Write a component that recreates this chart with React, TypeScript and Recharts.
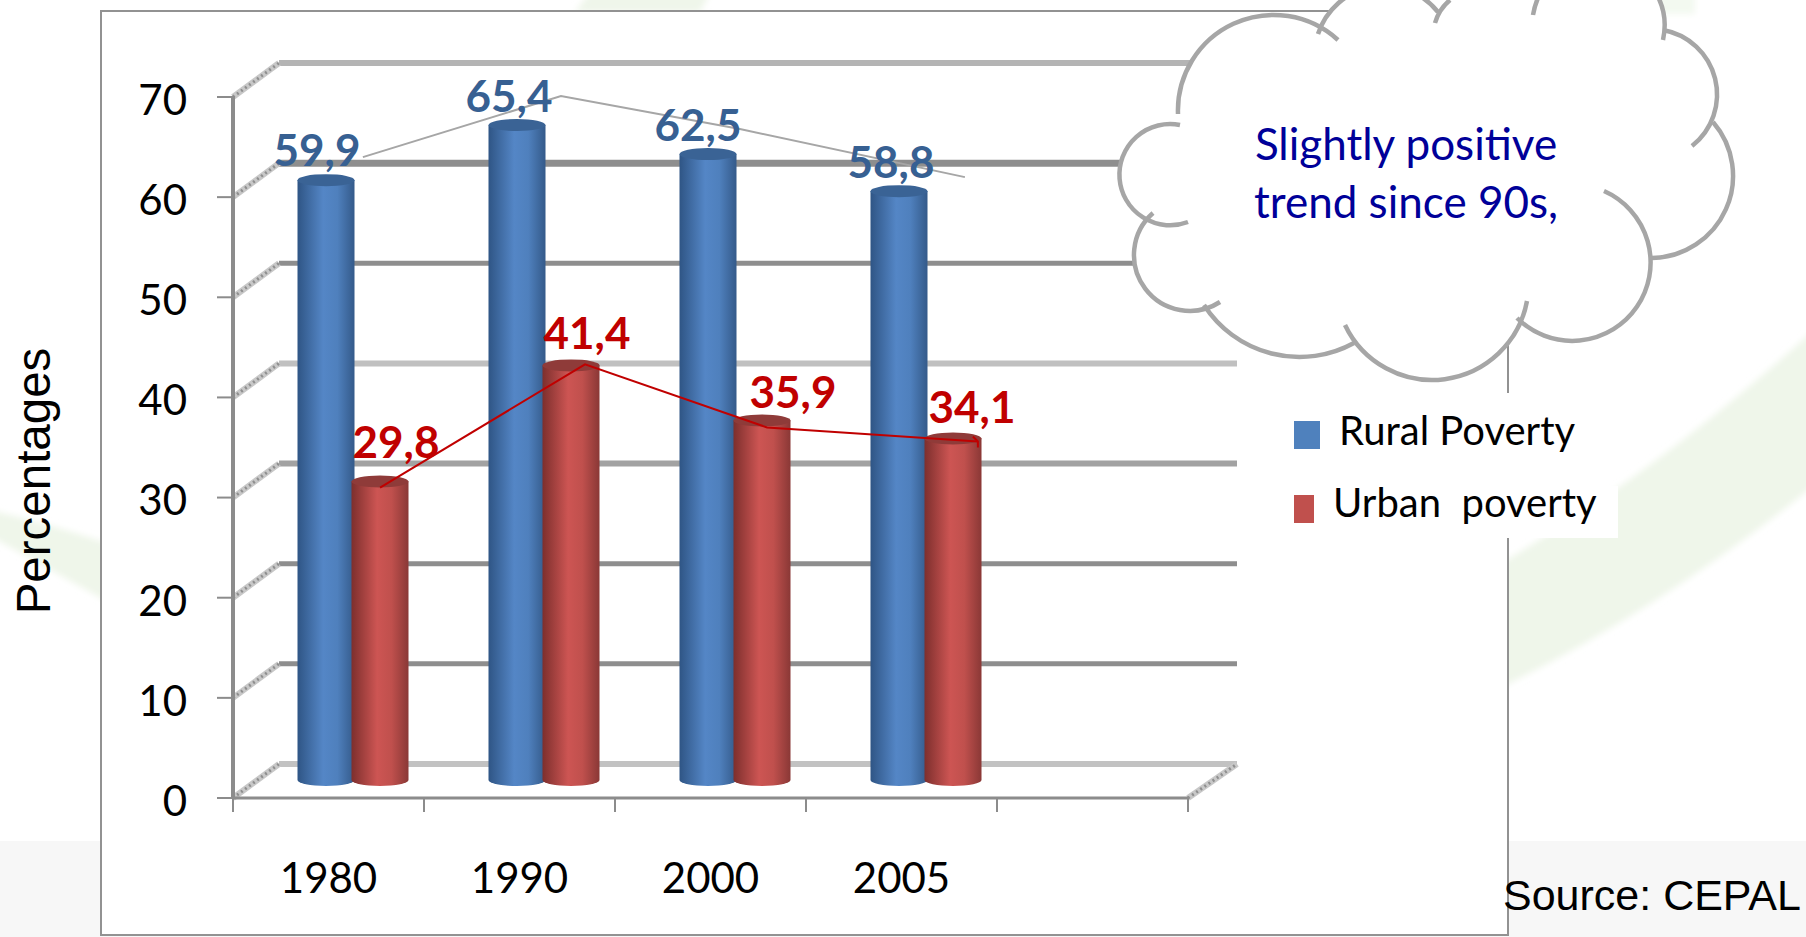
import React from 'react';
import { ComposedChart, Bar, Line, XAxis, YAxis, CartesianGrid, LabelList, Legend, Label } from 'recharts';

const categories = ['1980', '1990', '2000', '2005', ''];
const ruralValues: (number | null)[] = [59.9, 65.4, 62.5, 58.8, null];
const urbanValues: (number | null)[] = [29.8, 41.4, 35.9, 34.1, null];
const yTicks = [0, 10, 20, 30, 40, 50, 60, 70];
const slotTicks = [0, 1, 2, 3, 4, 5];
// hand-drawn trend overlays, position in category slots and level in percent
const ruralTrendPos = [0.68, 1.717, 2.654, 3.832];
const ruralTrendLevel = [64.0, 70.1, 66.8, 62.0];
const urbanTrendPos = [0.77, 1.843, 2.796, 3.9];
const urbanTrendLevel = [31.0, 43.3, 37.0, 35.6];

const rows = categories.map((year, i) => ({ year, rural: ruralValues[i], urban: urbanValues[i] }));
const ruralTrend = ruralTrendPos.map((pos, i) => ({ pos, level: ruralTrendLevel[i] }));
const urbanTrend = urbanTrendPos.map((pos, i) => ({ pos, level: urbanTrendLevel[i] }));

const W = 1806;
const H = 937;
const CALIBRI = 'Lato, Carlito, sans-serif';
const ARIAL = '"Liberation Sans", Arial, sans-serif';
const BAR_DX = 24.5;
const BAR_DY = -18;
const DEPTH_X = 46;
const DEPTH_Y = -34;
const BACK_END = 1237;
const AXIS = '#8c8c8c';
const gridStyle: Record<number, { c: string; w: number }> = {
  0: { c: '#c2c2c2', w: 6 },
  10: { c: '#8e8e8e', w: 5 },
  20: { c: '#8e8e8e', w: 5 },
  30: { c: '#a2a2a2', w: 6 },
  40: { c: '#c0c0c0', w: 6 },
  50: { c: '#8e8e8e', w: 5 },
  60: { c: '#8e8e8e', w: 7 },
  70: { c: '#b4b4b4', w: 6 },
};

function cylinder(id: string, stops: string[], top: string) {
  return (props: any) => {
    const { x, y, width, height } = props;
    if (height == null || !isFinite(height) || height <= 0) return null;
    const left = x + BAR_DX;
    const right = left + width;
    const t = y + BAR_DY;
    const b = t + height;
    const rx = width / 2;
    const ry = 6;
    return (
      <g>
        <defs>
          <linearGradient id={id} x1="0" x2="1" y1="0" y2="0">
            <stop offset="0" stopColor={stops[0]} />
            <stop offset="0.45" stopColor={stops[1]} />
            <stop offset="0.7" stopColor={stops[2]} />
            <stop offset="1" stopColor={stops[3]} />
          </linearGradient>
        </defs>
        <path
          d={`M${left},${t} L${left},${b} A${rx},${ry} 0 0 0 ${right},${b} L${right},${t} Z`}
          fill={`url(#${id})`}
        />
        <ellipse cx={left + rx} cy={t} rx={rx} ry={ry} fill={top} />
      </g>
    );
  };
}
const RuralBar = cylinder('cylRural', ['#2f5585', '#5486c6', '#4f80bd', '#345a8a'], '#3a6395');
const UrbanBar = cylinder('cylUrban', ['#7d2f2d', '#cd5553', '#c0504d', '#8a3836'], '#8f3b39');

const ruralLabelDx = [-9, -8, -10, -8];
const ruralLabelDy = [-31, -30, -30, -30];
const urbanLabelDx = [16, 16, 31, 19];
const urbanLabelDy = [-41, -33, -29, -33];

function valueLabel(color: string, dxs: number[], dys: number[]) {
  return (props: any) => {
    const { x, y, width, value, index } = props;
    if (value == null) return null;
    return (
      <text
        x={x + width / 2 + BAR_DX + dxs[index]}
        y={y + BAR_DY + dys[index]}
        textAnchor="middle"
        dominantBaseline="central"
        fontFamily={CALIBRI}
        fontWeight={700}
        fontSize={44}
        fill={color}
      >
        {String(value).replace('.', ',')}
      </text>
    );
  };
}

function backGridLine(props: any) {
  const { x1, y1, index } = props;
  const s = gridStyle[yTicks[index]] ?? gridStyle[0];
  const bx = x1 + DEPTH_X;
  const by = y1 + DEPTH_Y;
  return (
    <g key={`g${index}`}>
      <line x1={bx} x2={BACK_END} y1={by} y2={by} stroke={s.c} strokeWidth={s.w} />
      <line x1={x1} y1={y1} x2={bx} y2={by} stroke="#c8c8c8" strokeWidth={6} />
      <line x1={x1} y1={y1} x2={bx} y2={by} stroke="#8f8f8f" strokeWidth={3} strokeDasharray="2 3" />
      {index === 0 ? (
        <g>
          <line x1={1188} y1={y1} x2={BACK_END} y2={by} stroke="#c8c8c8" strokeWidth={6} />
          <line x1={1188} y1={y1} x2={BACK_END} y2={by} stroke="#8f8f8f" strokeWidth={3} strokeDasharray="2 3" />
        </g>
      ) : null}
    </g>
  );
}

function UrbanArrow(props: any) {
  const { cx, cy, index } = props;
  if (index !== urbanTrendPos.length - 1) return <g key={index} />;
  return (
    <path
      key={index}
      d={`M${cx - 5},${cy - 5} L${cx},${cy} L${cx},${cy + 6}`}
      fill="none"
      stroke="#c00000"
      strokeWidth={2}
    />
  );
}

function LegendBox() {
  const txt: React.CSSProperties = { position: 'absolute', fontFamily: CALIBRI, fontSize: 40, color: '#000', whiteSpace: 'pre', lineHeight: '44px' };
  return (
    <div style={{ position: 'relative', width: 0, height: 0 }}>
      <div style={{ position: 'absolute', left: 1270, top: 393, width: 320, height: 93, background: '#fff' }} />
      <div style={{ position: 'absolute', left: 1270, top: 486, width: 348, height: 52, background: '#fff' }} />
      <div style={{ position: 'absolute', left: 1294, top: 421, width: 26, height: 28, background: '#4f81bd' }} />
      <span style={{ ...txt, left: 1339, top: 408 }}>Rural Poverty</span>
      <div style={{ position: 'absolute', left: 1294, top: 495, width: 20, height: 28, background: '#c0504d' }} />
      <span style={{ ...txt, left: 1333, top: 480 }}>{'Urban  poverty'}</span>
    </div>
  );
}

type P = [number, number];
function arcPath(a: P, m: P, b: P) {
  const d = 2 * (a[0] * (m[1] - b[1]) + m[0] * (b[1] - a[1]) + b[0] * (a[1] - m[1]));
  const s = (p: P) => p[0] * p[0] + p[1] * p[1];
  const ux = (s(a) * (m[1] - b[1]) + s(m) * (b[1] - a[1]) + s(b) * (a[1] - m[1])) / d;
  const uy = (s(a) * (b[0] - m[0]) + s(m) * (a[0] - b[0]) + s(b) * (m[0] - a[0])) / d;
  const r = Math.hypot(a[0] - ux, a[1] - uy);
  const cross = (m[0] - a[0]) * (b[1] - a[1]) - (m[1] - a[1]) * (b[0] - a[0]);
  const sweep = cross > 0 ? 1 : 0;
  const ang = (p: P) => Math.atan2(p[1] - uy, p[0] - ux);
  let delta = sweep ? ang(b) - ang(a) : ang(a) - ang(b);
  while (delta < 0) delta += Math.PI * 2;
  const large = delta > Math.PI ? 1 : 0;
  return `M${a[0]},${a[1]} A${r},${r} 0 ${large} ${sweep} ${b[0]},${b[1]}`;
}

const lobes: [P, P, P][] = [
  [[1178, 114], [1271, 15], [1338, 40]],
  [[1318, 34], [1385, -14], [1438, 12]],
  [[1435, 23], [1441, 10], [1450, 0]],
  [[1533, 15], [1590, -40], [1663, 40]],
  [[1663, 30], [1717, 97], [1692, 146]],
  [[1713, 122], [1733, 173], [1652, 258]],
  [[1604, 191], [1650, 253], [1517, 318]],
  [[1527, 301], [1433, 380], [1345, 325]],
  [[1354, 343], [1298, 357], [1204, 305]],
  [[1220, 302], [1134, 253], [1153, 213]],
  [[1188, 222], [1120, 167], [1180, 125]],
];
const cloudBody = '1178,114 1271,15 1332,30 1332,-10 1640,-10 1663,40 1717,97 1733,173 1652,258 1568,330 1517,318 1433,380 1345,325 1298,357 1204,305 1134,253 1120,167';

export default function App() {
  return (
    <div style={{ position: 'absolute', left: 0, top: 0, width: W, height: H, overflow: 'hidden', background: '#fff' }}>
      <svg width={W} height={H} style={{ position: 'absolute', left: 0, top: 0 }}>
        <defs>
          <filter id="soft" x="-10%" y="-10%" width="120%" height="120%">
            <feGaussianBlur stdDeviation="3" />
          </filter>
        </defs>
        <g filter="url(#soft)">
          <path d="M-10,510 Q50,524 110,544 L110,603 Q50,570 -10,536 Z" fill="#eff6ea" />
          <path d="M575,12 L592,-10 L712,-10 L700,12 Z" fill="#eff6ea" />
          <path d="M1640,-10 L1695,-10 L1695,14 L1655,14 Z" fill="#f3f9f0" />
          <path d="M1500,564 Q1660,470 1816,328 L1816,484 Q1660,610 1500,688 Z" fill="#eff6ea" />
        </g>
        <rect x={0} y={841} width={W} height={H - 841} fill="#f7f7f7" />
        <rect x={101} y={11} width={1407} height={924} fill="#fff" stroke="#929292" strokeWidth={2} />
      </svg>
      <div style={{ position: 'absolute', left: 0, top: 0 }}>
        <ComposedChart
          width={W}
          height={H}
          data={rows}
          margin={{ top: 96, right: 618, bottom: 2, left: 0 }}
          barSize={57}
          barGap={-3}
        >
          <CartesianGrid
            vertical={false}
            horizontal={backGridLine as any}
            horizontalValues={yTicks}
            stroke="none"
          />
          <XAxis
            xAxisId="aSlots"
            type="number"
            dataKey="pos"
            domain={[0, 5]}
            ticks={slotTicks}
            interval={0}
            height={1}
            tick={() => <g />}
            tickSize={14}
            axisLine={{ stroke: AXIS, strokeWidth: 3 }}
            tickLine={{ stroke: AXIS, strokeWidth: 2 }}
          />
          <XAxis
            xAxisId="cats"
            dataKey="year"
            height={136}
            interval={0}
            axisLine={false}
            tickLine={false}
            tickMargin={58}
            tick={{ fontFamily: CALIBRI, fontSize: 42, fill: '#000' }}
          />
          <YAxis
            width={233}
            domain={[0, 70]}
            ticks={yTicks}
            interval={0}
            tickSize={16}
            tickMargin={30}
            axisLine={{ stroke: AXIS, strokeWidth: 4 }}
            tickLine={{ stroke: AXIS, strokeWidth: 2 }}
            tick={{ fontFamily: CALIBRI, fontSize: 42, fill: '#000', dy: 3 }}
          >
            <Label
              content={() => (
                <text
                  transform="translate(33,481) rotate(-90)"
                  textAnchor="middle"
                  dominantBaseline="central"
                  fontFamily={ARIAL}
                  fontSize={47.5}
                  fill="#000"
                >
                  Percentages
                </text>
              )}
            />
          </YAxis>
          <Bar xAxisId="cats" dataKey="rural" name="Rural Poverty" fill="#4f81bd" shape={RuralBar} isAnimationActive={false}>
            <LabelList dataKey="rural" content={valueLabel('#376092', ruralLabelDx, ruralLabelDy)} />
          </Bar>
          <Bar xAxisId="cats" dataKey="urban" name="Urban  poverty" fill="#c0504d" shape={UrbanBar} isAnimationActive={false}>
            <LabelList dataKey="urban" content={valueLabel('#c00000', urbanLabelDx, urbanLabelDy)} />
          </Bar>
          <Line
            xAxisId="aSlots"
            data={ruralTrend}
            dataKey="level"
            type="linear"
            stroke="#a6a6a6"
            strokeWidth={2}
            dot={false}
            legendType="none"
            isAnimationActive={false}
          />
          <Line
            xAxisId="aSlots"
            data={urbanTrend}
            dataKey="level"
            type="linear"
            stroke="#c00000"
            strokeWidth={2}
            dot={UrbanArrow as any}
            legendType="none"
            isAnimationActive={false}
          />
          <Legend
            layout="vertical"
            align="center"
            verticalAlign="middle"
            wrapperStyle={{ left: 0, top: 0, width: 0, height: 0, margin: 0 }}
            content={() => <LegendBox />}
          />
        </ComposedChart>
      </div>
      <svg width={W} height={H} style={{ position: 'absolute', left: 0, top: 0, pointerEvents: 'none' }}>
        <polygon points={cloudBody} fill="#fff" />
        {lobes.map((l, i) => (
          <path key={`f${i}`} d={arcPath(l[0], l[1], l[2])} fill="#fff" stroke="none" />
        ))}
        {lobes.map((l, i) => (
          <path key={`s${i}`} d={arcPath(l[0], l[1], l[2])} fill="none" stroke="#a6a6a6" strokeWidth={4.5} />
        ))}
        <text x={1406} y={143} textAnchor="middle" dominantBaseline="central" fontFamily={CALIBRI} fontSize={44} fill="#000099">
          Slightly positive
        </text>
        <text x={1406} y={201} textAnchor="middle" dominantBaseline="central" fontFamily={CALIBRI} fontSize={44} fill="#000099">
          trend since 90s,
        </text>
        <text x={1503} y={895} dominantBaseline="central" fontFamily={ARIAL} fontSize={43} fill="#000">
          Source: CEPAL
        </text>
      </svg>
    </div>
  );
}
